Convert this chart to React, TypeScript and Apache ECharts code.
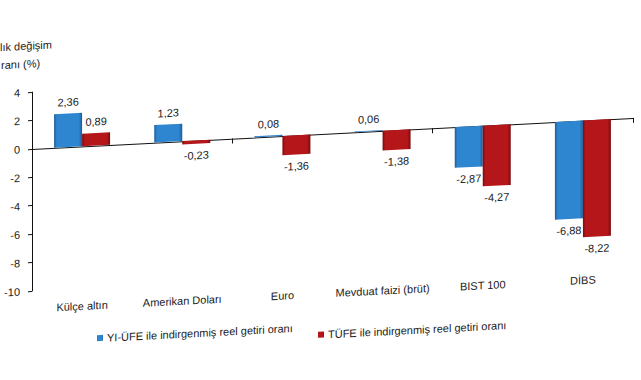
import React, { useEffect, useRef } from "react";
import * as echarts from "echarts";

const categories = ["Külçe altın", "Amerikan Doları", "Euro", "Mevduat faizi (brüt)", "BIST 100", "DİBS"];
const seriesNames = ["YI-ÜFE ile indirgenmiş reel getiri oranı", "TÜFE ile indirgenmiş reel getiri oranı"];
const yiUfeValues = [2.36, 1.23, 0.08, 0.06, -2.87, -6.88];
const tufeValues = [0.89, -0.23, -1.36, -1.38, -4.27, -8.22];
const titleLines = ["lık değişim", "ranı (%)"];

const FONT = "'Liberation Sans', Arial, sans-serif";

function grad(edge: string, mid: string) {
  return new echarts.graphic.LinearGradient(0, 0, 1, 0, [
    { offset: 0, color: edge },
    { offset: 0.1, color: mid },
    { offset: 0.88, color: mid },
    { offset: 1, color: edge },
  ]);
}

function toData(vals: number[]) {
  return vals.map((v) => ({
    value: v,
    label: { position: v < 0 ? "bottom" : "top" },
  }));
}

export default function App() {
  const ref = useRef<HTMLDivElement>(null);
  useEffect(() => {
    if (!ref.current) return;
    const chart = echarts.init(ref.current, null, { renderer: "svg" });
    const labelCfg = {
      show: true,
      distance: 6,
      fontSize: 11,
      fontFamily: FONT,
      color: "#222",
      formatter: (p: any) => String(p.value.toFixed(2)).replace(".", ","),
    };
    chart.setOption({
      animation: false,
      textStyle: { fontFamily: FONT },
      grid: { left: 32, right: 8, top: 92, height: 199, containLabel: false },
      legend: [
        {
          data: [seriesNames[0]],
          left: 92,
          top: 331,
          icon: "rect",
          itemWidth: 6,
          itemHeight: 6,
          itemGap: 4,
          textStyle: { fontSize: 11, color: "#222", fontFamily: FONT, padding: [0, 0, 0, -1] },
        },
        {
          data: [seriesNames[1]],
          left: 313,
          top: 339,
          icon: "rect",
          itemWidth: 6,
          itemHeight: 6,
          itemGap: 4,
          textStyle: { fontSize: 11, color: "#222", fontFamily: FONT, padding: [0, 0, 0, -1] },
        },
      ],
      graphic: [
        {
          type: "text",
          left: 0,
          top: 40,
          style: { text: titleLines[0], fontSize: 11, fontFamily: FONT, fill: "#222" },
        },
        {
          type: "text",
          left: 1,
          top: 58,
          style: { text: titleLines[1], fontSize: 11, fontFamily: FONT, fill: "#222" },
        },
      ],
      xAxis: [
        {
          type: "category",
          data: categories,
          position: "bottom",
          axisLine: { onZero: true, lineStyle: { color: "#111", width: 1 } },
          axisTick: { show: true, length: 5, lineStyle: { color: "#111" } },
          axisLabel: { show: false },
          splitLine: { show: false },
        },
        {
          type: "category",
          data: categories,
          position: "bottom",
          axisLine: { show: false, onZero: false },
          axisTick: { show: false },
          axisLabel: { show: true, margin: 12, fontSize: 11, color: "#222", fontFamily: FONT, interval: 0 },
          splitLine: { show: false },
        },
      ],
      yAxis: {
        type: "value",
        min: -10,
        max: 4,
        interval: 2,
        axisLine: { show: true, lineStyle: { color: "#111" } },
        axisTick: { show: true, length: 4, lineStyle: { color: "#111" } },
        axisLabel: { margin: 12, fontSize: 11, color: "#222", fontFamily: FONT },
        splitLine: { show: false },
      },
      series: [
        {
          name: seriesNames[0],
          type: "bar",
          xAxisIndex: 0,
          barWidth: 28,
          barGap: "0%",
          data: toData(yiUfeValues),
          itemStyle: { color: grad("#1d5c99", "#2f86d0") },
          label: labelCfg,
        },
        {
          name: seriesNames[1],
          type: "bar",
          xAxisIndex: 0,
          barWidth: 28,
          barGap: "0%",
          data: toData(tufeValues),
          itemStyle: { color: grad("#7a0b0e", "#b5161a") },
          label: labelCfg,
        },
      ],
    });
    return () => chart.dispose();
  }, []);
  return (
    <div
      ref={ref}
      style={{
        position: "absolute",
        left: 0,
        top: 0,
        width: 641,
        height: 380,
        transform: "skewY(-2.95deg)",
        transformOrigin: "32px 148px",
      }}
    />
  );
}
